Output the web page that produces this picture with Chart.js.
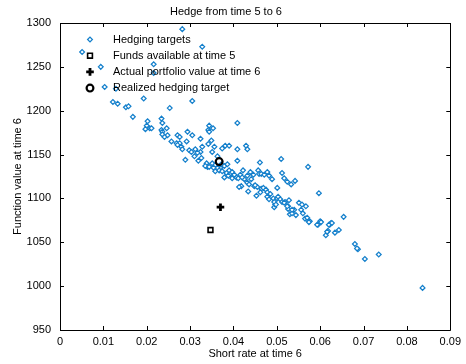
<!DOCTYPE html>
<html>
<head>
<meta charset="utf-8">
<title>Hedge from time 5 to 6</title>
<script src="https://cdn.jsdelivr.net/npm/chart.js@4.4.1/dist/chart.umd.min.js"></script>
<style>
  html, body { margin: 0; padding: 0; background: #fff; }
  #wrap { width: 466px; height: 364px; }
</style>
</head>
<body>
<div id="wrap"><canvas id="hedgeChart" width="466" height="364"></canvas></div>
<script>
// Simulated hedging targets: short rate at time 6 vs function value at time 6
const targetRates = [
  0.0051, 0.0094, 0.0282, 0.0328, 0.0216, 0.0216, 0.0103, 0.0129, 0.0193, 0.0305,
  0.0122, 0.0133, 0.0152, 0.0158, 0.0168, 0.0253, 0.0234, 0.0236, 0.0202, 0.0200,
  0.0207, 0.0211, 0.0197, 0.0234, 0.0236, 0.0236, 0.0246, 0.0248, 0.0241, 0.0257,
  0.0271, 0.0276, 0.0294, 0.0305, 0.0269, 0.0276, 0.0271, 0.0280, 0.0282, 0.0292,
  0.0324, 0.0298, 0.0303, 0.0312, 0.0324, 0.0317, 0.0310, 0.0326, 0.0338, 0.0340,
  0.0335, 0.0342, 0.0342, 0.0344, 0.0353, 0.0344, 0.0349, 0.0356, 0.0374, 0.0381,
  0.0390, 0.0409, 0.0409, 0.0429, 0.0432, 0.0409, 0.0461, 0.0510, 0.0422, 0.0457,
  0.0459, 0.0464, 0.0512, 0.0572, 0.0489, 0.0441, 0.0397, 0.0407, 0.0411, 0.0425,
  0.0384, 0.0393, 0.0379, 0.0370, 0.0344, 0.0351, 0.0358, 0.0363, 0.0367, 0.0374,
  0.0358, 0.0354, 0.0372, 0.0379, 0.0386, 0.0418, 0.0413, 0.0432, 0.0436, 0.0448,
  0.0455, 0.0464, 0.0469, 0.0434, 0.0462, 0.0475, 0.0478, 0.0485, 0.0478, 0.0501,
  0.0492, 0.0501, 0.0494, 0.0453, 0.0450, 0.0482, 0.0496, 0.0503, 0.0508, 0.0512,
  0.0519, 0.0528, 0.0526, 0.0526, 0.0530, 0.0540, 0.0535, 0.0544, 0.0551, 0.0558,
  0.0567, 0.0556, 0.0560, 0.0565, 0.0572, 0.0576, 0.0597, 0.0595, 0.0600, 0.0613,
  0.0618, 0.0622, 0.0625, 0.0634, 0.0643, 0.0654, 0.0680, 0.0687, 0.0703, 0.0735,
  0.0836, 0.0494, 0.0498, 0.0517, 0.0524, 0.0535, 0.0570, 0.0574, 0.0593, 0.0602,
  0.0616, 0.0620, 0.0627, 0.0685, 0.0390, 0.0397, 0.0402, 0.0388, 0.0416, 0.0420,
  0.0432, 0.0439, 0.0446, 0.0471, 0.0478, 0.0482, 0.0517, 0.0524, 0.0533, 0.0542,
  0.0351, 0.0363, 0.0328, 0.0289, 0.0319
];
const targetValues = [
  1267, 1250, 1293, 1273, 1253, 1243, 1227, 1225, 1214, 1211,
  1210, 1208, 1204, 1205, 1193, 1203, 1191, 1186, 1188, 1183,
  1180, 1180, 1179, 1178, 1176, 1173, 1180, 1172, 1170, 1165,
  1172, 1170, 1176, 1172, 1163, 1163, 1161, 1159, 1156, 1165,
  1168, 1155, 1153, 1156, 1153, 1152, 1148, 1146, 1140, 1136,
  1137, 1162, 1178, 1183, 1180, 1176, 1166, 1159, 1157, 1160,
  1160, 1156, 1186, 1160, 1156, 1143, 1141, 1145, 1132, 1132,
  1128, 1128, 1129, 1136, 1122, 1122, 1123, 1124, 1123, 1122,
  1129, 1128, 1124, 1135, 1136, 1140, 1138, 1135, 1132, 1131,
  1131, 1135, 1139, 1137, 1139, 1114, 1113, 1118, 1116, 1114,
  1113, 1111, 1112, 1108, 1107, 1110, 1107, 1105, 1102, 1112,
  1100, 1100, 1090, 1103, 1115, 1099, 1093, 1102, 1099, 1096,
  1096, 1098, 1091, 1088, 1082, 1087, 1083, 1081, 1095, 1093,
  1091, 1087, 1083, 1077, 1075, 1074, 1106, 1070, 1074, 1058,
  1063, 1070, 1072, 1061, 1064, 1079, 1048, 1042, 1031, 1036,
  998, 1096, 1093, 1095, 1091, 1087, 1078, 1073, 1070, 1073,
  1062, 1070, 1072, 1043, 1132, 1130, 1127, 1126, 1127, 1124,
  1126, 1130, 1127, 1127, 1130, 1126, 1123, 1119, 1116, 1120,
  1153, 1148, 1159, 1144, 1143
];

// Single-point markers
const fundsAvailable = { rate: 0.0347, value: 1064 };
const actualPortfolio = { rate: 0.0370, value: 1090 };
const realizedTarget = { rate: 0.0367, value: 1142 };

const legendLabels = [
  'Hedging targets',
  'Funds available at time 5',
  'Actual portfolio value at time 6',
  'Realized hedging target'
];

const xTicks = [0, 0.01, 0.02, 0.03, 0.04, 0.05, 0.06, 0.07, 0.08, 0.09];
const yTicks = [950, 1000, 1050, 1100, 1150, 1200, 1250, 1300];

const FONT = '"Liberation Sans", Arial, Helvetica, sans-serif';
const BLUE = '#1580cc';

const targetPoints = targetRates.map((r, i) => ({ x: r, y: targetValues[i] }));

// Legend drawn inside the axes, plus inward tick marks on all four sides
const boxAndLegend = {
  id: 'boxAndLegend',
  afterDraw(chart) {
    const ctx = chart.ctx;
    const area = chart.chartArea;
    const xs = chart.scales.x;
    const ys = chart.scales.y;
    const tl = 4;

    ctx.save();
    ctx.strokeStyle = '#000';
    ctx.lineWidth = 1;
    ctx.beginPath();
    ctx.rect(Math.round(area.left) + 0.5, Math.round(area.top) + 0.5,
      Math.round(area.right - area.left), Math.round(area.bottom - area.top));
    xTicks.forEach(v => {
      const px = Math.round(xs.getPixelForValue(v)) + 0.5;
      ctx.moveTo(px, area.bottom);
      ctx.lineTo(px, area.bottom - tl);
      ctx.moveTo(px, area.top);
      ctx.lineTo(px, area.top + tl);
    });
    yTicks.forEach(v => {
      const py = Math.round(ys.getPixelForValue(v)) + 0.5;
      ctx.moveTo(area.left, py);
      ctx.lineTo(area.left + tl, py);
      ctx.moveTo(area.right, py);
      ctx.lineTo(area.right - tl, py);
    });
    ctx.stroke();

    // legend entries
    const mx = area.left + 30;
    const tx = area.left + 53;
    const rowY = [39.5, 55.7, 71.9, 88.1];
    chart.data.datasets.forEach((ds, i) => {
      ctx.fillStyle = ds.backgroundColor;
      ctx.strokeStyle = ds.borderColor;
      ctx.lineWidth = ds.borderWidth;
      Chart.helpers.drawPoint(ctx, {
        pointStyle: ds.pointStyle,
        radius: ds.pointRadius,
        borderWidth: ds.borderWidth,
        rotation: 0
      }, mx, rowY[i]);
      ctx.fillStyle = '#000';
      ctx.font = '11px ' + FONT;
      ctx.textBaseline = 'middle';
      ctx.textAlign = 'left';
      ctx.fillText(ds.label, tx, rowY[i]);
    });
    ctx.restore();
  }
};

new Chart(document.getElementById('hedgeChart'), {
  type: 'scatter',
  data: {
    datasets: [
      {
        label: legendLabels[0],
        data: targetPoints,
        pointStyle: 'rectRot',
        pointRadius: 2.4,
        borderWidth: 1.25,
        borderColor: BLUE,
        backgroundColor: '#fff',
        order: 4
      },
      {
        label: legendLabels[1],
        data: [{ x: fundsAvailable.rate, y: fundsAvailable.value }],
        pointStyle: 'rect',
        pointRadius: 3.4,
        borderWidth: 1.6,
        borderColor: '#000',
        backgroundColor: '#fff',
        order: 3
      },
      {
        label: legendLabels[2],
        data: [{ x: actualPortfolio.rate, y: actualPortfolio.value }],
        pointStyle: 'cross',
        pointRadius: 3.8,
        borderWidth: 2.8,
        borderColor: '#000',
        backgroundColor: '#000',
        order: 2
      },
      {
        label: legendLabels[3],
        data: [{ x: realizedTarget.rate, y: realizedTarget.value }],
        pointStyle: 'circle',
        pointRadius: 3.4,
        borderWidth: 2.2,
        borderColor: '#000',
        backgroundColor: 'rgba(0,0,0,0)',
        order: 1
      }
    ]
  },
  options: {
    responsive: false,
    animation: false,
    layout: { padding: { left: 0, right: 14, top: 0, bottom: 0 } },
    plugins: {
      legend: { display: false },
      tooltip: { enabled: false },
      title: {
        display: true,
        text: 'Hedge from time 5 to 6',
        color: '#000',
        font: { family: FONT, size: 11, weight: 'normal' },
        padding: { top: 5, bottom: 4.8 }
      }
    },
    scales: {
      x: {
        type: 'linear',
        min: 0,
        max: 0.09,
        afterBuildTicks: scale => { scale.ticks = xTicks.map(v => ({ value: v })); },
        afterFit: scale => { scale.height = 34; },
        grid: { display: false, drawTicks: false },
        border: { display: false },
        ticks: {
          color: '#000',
          padding: 5,
          maxRotation: 0,
          font: { family: FONT, size: 11 },
          callback: v => (v === 0 ? '0' : v.toFixed(2))
        },
        title: {
          display: true,
          text: 'Short rate at time 6',
          color: '#000',
          font: { family: FONT, size: 11 },
          padding: { top: 0, bottom: 3 }
        }
      },
      y: {
        type: 'linear',
        min: 950,
        max: 1300,
        afterBuildTicks: scale => { scale.ticks = yTicks.map(v => ({ value: v })); },
        afterFit: scale => { scale.width = 60; },
        grid: { display: false, drawTicks: false },
        border: { display: false },
        ticks: {
          color: '#000',
          padding: 9,
          font: { family: FONT, size: 11 },
          callback: v => String(v)
        },
        title: {
          display: true,
          text: 'Function value at time 6',
          color: '#000',
          font: { family: FONT, size: 11 },
          padding: { top: 11, bottom: 0 }
        }
      }
    }
  },
  plugins: [boxAndLegend]
});
</script>
</body>
</html>
